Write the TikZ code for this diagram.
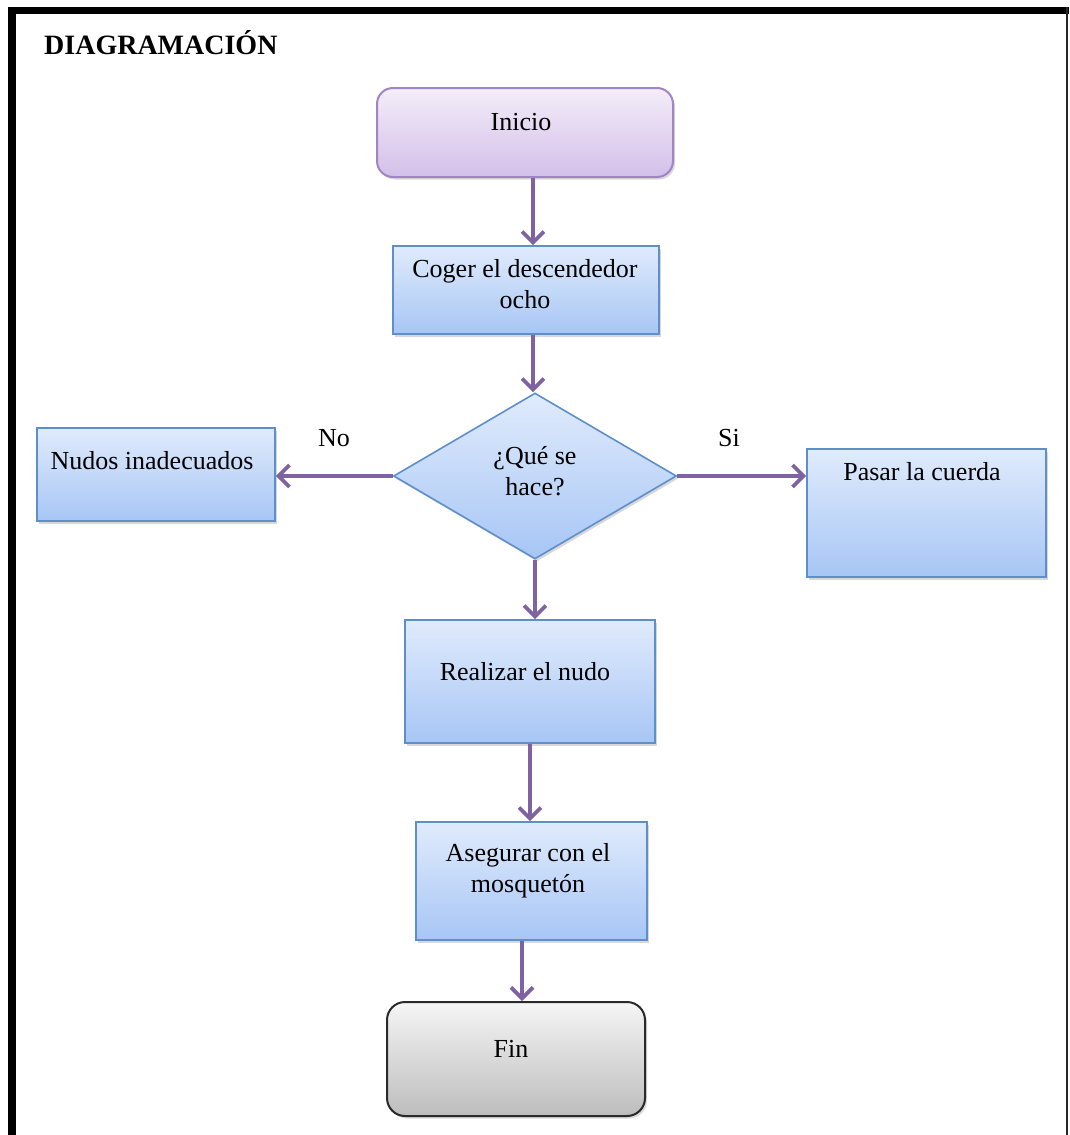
\documentclass[tikz,border=0pt]{standalone}
\usepackage{fontspec}
\setmainfont{Liberation Serif}
\usetikzlibrary{arrows.meta,shapes.geometric,shadows}
\definecolor{arrowc}{HTML}{7F62A1}
\definecolor{purpb}{HTML}{A085C4}
\definecolor{purpt}{HTML}{F4EDF9}
\definecolor{purpB}{HTML}{D3BFE9}
\definecolor{blueb}{HTML}{5F8FCB}
\definecolor{bluet}{HTML}{E0EBFC}
\definecolor{blueB}{HTML}{A7C6F5}
\definecolor{grayb}{HTML}{2A2A2A}
\definecolor{grayt}{HTML}{F5F5F5}
\definecolor{grayB}{HTML}{BDBDBD}
\begin{document}
\begin{tikzpicture}[x=1pt,y=-1pt,
  txt/.style={font=\fontsize{26}{31}\selectfont, align=center, inner sep=0pt},
  shad/.style={drop shadow={shadow xshift=2pt, shadow yshift=-2.5pt, opacity=0.3}},
  bluebox/.style={shad, draw=blueb, line width=1.6pt, top color=bluet, bottom color=blueB, inner sep=0pt},
  purpbox/.style={shad, draw=purpb, line width=2pt, top color=purpt, bottom color=purpB, rounded corners=16pt, inner sep=0pt},
  graybox/.style={shad, draw=grayb, line width=2pt, top color=grayt, bottom color=grayB, rounded corners=18pt, inner sep=0pt},
  arr/.style={draw=arrowc, line width=3.8pt, -{Straight Barb[length=11pt, width=22pt, line width=3.8pt]}}
]
\useasboundingbox (0,0) rectangle (1069,1135);
\fill[white] (0,0) rectangle (1069,1135);
% frame
\draw[line width=7pt] (8,10.5) -- (1069,10.5);
\draw[line width=8pt] (12,7) -- (12,1135);
\draw[line width=2pt, black!85] (1067,7) -- (1067,1135);
% title
\node[anchor=west, inner sep=0pt, font=\bfseries\fontsize{28}{34}\selectfont] (title) at (44,43) {DIAGRAMACIÓN};
% boxes
\node[purpbox, minimum width=296pt, minimum height=89pt] (inicio) at (525,132.5) {};
\node[txt] (tinicio) at (521,122) {Inicio};
\node[bluebox, minimum width=266pt, minimum height=88pt] (coger) at (526,290) {};
\node[txt] (tcoger) at (525,284) {Coger el descendedor\\ocho};
\node[bluebox, diamond, minimum width=283pt, minimum height=166pt] (dia) at (535,476) {};
\node[txt] (tdia) at (535,471) {¿Qué se\\hace?};
\node[bluebox, minimum width=238pt, minimum height=93pt] (nudos) at (156,474.5) {};
\node[txt] (tnudos) at (152,461) {Nudos inadecuados};
\node[bluebox, minimum width=239pt, minimum height=128pt] (pasar) at (926.5,513) {};
\node[txt] (tpasar) at (922,472) {Pasar la cuerda};
\node[bluebox, minimum width=250pt, minimum height=123pt] (realizar) at (530,681.5) {};
\node[txt] (trealizar) at (525,672) {Realizar el nudo};
\node[bluebox, minimum width=231pt, minimum height=118pt] (aseg) at (531.5,881) {};
\node[txt] (taseg) at (528,871) {Asegurar con el\\mosquetón};
\node[graybox, minimum width=258pt, minimum height=114pt] (fin) at (516,1059) {};
\node[txt] (tfin) at (511,1049) {Fin};
% labels
\node[txt] (no) at (334,438) {No};
\node[txt] (si) at (729,438) {Si};
% connectors
\draw[arr] ([xshift=8pt]inicio.south) coordinate (a1) -- (a1 |- coger.north);
\draw[arr] ([xshift=7pt]coger.south) coordinate (a2) -- (a2 |- dia.north);
\draw[arr] (dia.west) -- (dia.west -| nudos.east);
\draw[arr] (dia.east) -- (dia.east -| pasar.west);
\draw[arr] (dia.south) -- (dia.south |- realizar.north);
\draw[arr] (realizar.south) -- (realizar.south |- aseg.north);
\draw[arr] ([xshift=-9.5pt]aseg.south) coordinate (a5) -- (a5 |- fin.north);
\end{tikzpicture}
\end{document}
